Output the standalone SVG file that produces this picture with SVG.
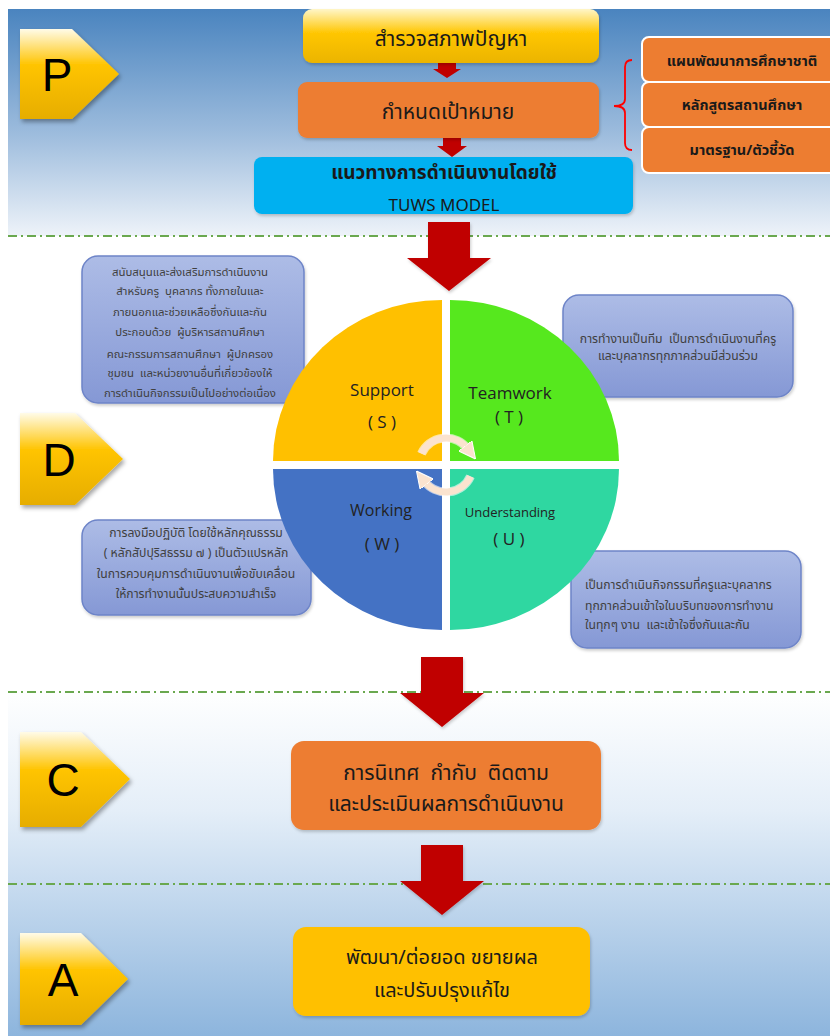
<svg xmlns="http://www.w3.org/2000/svg" width="830" height="1036" viewBox="0 0 830 1036">
<defs>
<linearGradient id="bgTop" x1="0" y1="0" x2="0" y2="1">
<stop offset="0" stop-color="#4a84bf"/><stop offset="0.55" stop-color="#9dbcdd"/><stop offset="1" stop-color="#eef3f9"/>
</linearGradient>
<linearGradient id="bgBot" x1="0" y1="0" x2="0" y2="1">
<stop offset="0" stop-color="#ffffff"/><stop offset="0.35" stop-color="#e4eef8"/><stop offset="1" stop-color="#8db5dd"/>
</linearGradient>
<linearGradient id="pent" x1="0" y1="0" x2="0" y2="1">
<stop offset="0" stop-color="#fffbe8"/><stop offset="0.4" stop-color="#ffc400"/><stop offset="1" stop-color="#e6ad00"/>
</linearGradient>
<linearGradient id="yel" x1="0" y1="0" x2="0" y2="1">
<stop offset="0" stop-color="#fff6c8"/><stop offset="0.45" stop-color="#ffc600"/><stop offset="1" stop-color="#ebb400"/>
</linearGradient>
<linearGradient id="peri" x1="0" y1="0" x2="0" y2="1">
<stop offset="0" stop-color="#adbce6"/><stop offset="1" stop-color="#8598d5"/>
</linearGradient>
<filter id="sh" x="-20%" y="-20%" width="150%" height="150%">
<feDropShadow dx="2" dy="3" stdDeviation="2" flood-color="#000" flood-opacity="0.35"/>
</filter>
<filter id="sh2" x="-10%" y="-10%" width="130%" height="130%">
<feDropShadow dx="1" dy="2" stdDeviation="1.5" flood-color="#000" flood-opacity="0.2"/>
</filter>
<marker id="cah" viewBox="0 0 10 10" refX="2" refY="5" markerWidth="2.4" markerHeight="2.4" orient="auto">
<path d="M0,0 L10,5 L0,10 Z" fill="#fbe3cf" stroke="#ffffff" stroke-width="0.6"/>
</marker>
<style>
text{white-space:pre}
.th{font-family:"Noto Sans","Noto Sans Thai","Tahoma",sans-serif}
.big{font-size:21px;fill:#1a1a1a;text-anchor:middle}
.sm{font-size:14.5px;fill:#1a1a1a;text-anchor:middle;font-weight:bold}
.note{font-size:12.2px;fill:#404040}
.lbl{font-family:"Open Sans","Liberation Sans",sans-serif;font-size:17px;fill:#222;text-anchor:middle}
.let{font-family:"Liberation Sans",Arial,sans-serif;font-size:46px;fill:#000;text-anchor:middle}
.dash{stroke:#6aa84f;stroke-width:2;stroke-dasharray:9 4 2 4;fill:none}
.red{fill:#c00000}
.pbox{fill:url(#peri);stroke:#6d84c8;stroke-width:1.5}
</style>
</defs>
<rect x="0" y="0" width="830" height="1036" fill="#ffffff"/>
<rect x="8" y="9" width="822" height="227" fill="url(#bgTop)"/>
<rect x="8" y="690" width="822" height="346" fill="url(#bgBot)"/>
<g id="separators">
<line class="dash" x1="8" y1="236" x2="830" y2="236"/>
<line class="dash" x1="8" y1="692" x2="830" y2="692"/>
<line class="dash" x1="8" y1="884" x2="830" y2="884"/>
</g>
<g id="stage-P"><path d="M20,29 H72 L119,74 L72,119 H20 Z" fill="url(#pent)" filter="url(#sh)"/><text class="let" x="57" y="91">P</text></g>
<g id="stage-D"><path d="M20,413 H75 L123,459 L75,505 H20 Z" fill="url(#pent)" filter="url(#sh)"/><text class="let" x="59" y="476">D</text></g>
<g id="stage-C"><path d="M20,732 H81 L130,779 L81,827 H20 Z" fill="url(#pent)" filter="url(#sh)"/><text class="let" x="63" y="796">C</text></g>
<g id="stage-A"><path d="M20,933 H81 L128,979 L81,1025 H20 Z" fill="url(#pent)" filter="url(#sh)"/><text class="let" x="63" y="996">A</text></g>
<g id="connectors">
<path class="red" d="M438,63 H456 V69 H461 L447,78 L433,69 H438 Z"/>
<path class="red" d="M443,138 H461 V146 H467 L452,157 L437,146 H443 Z"/>
<path class="red" d="M428,222 H470 V258 H491 L449,291 L407,258 H428 Z" filter="url(#sh2)"/>
<path class="red" d="M421,657 H463 V693 H484 L442,727 L400,693 H421 Z" filter="url(#sh2)"/>
<path class="red" d="M421,845 H463 V881 H484 L442,915 L400,881 H421 Z" filter="url(#sh2)"/>
<path d="M632,60 Q625,60 625,67 V99 Q625,106 614,106 Q625,106 625,113 V143 Q625,150 632,150" fill="none" stroke="#ff0000" stroke-width="1.8"/>
</g>
<g id="survey"><rect x="303" y="9" width="296" height="54" rx="9" fill="url(#yel)" filter="url(#sh2)"/><text class="th big" x="451" y="46">สำรวจสภาพปัญหา</text></g>
<g id="goal"><rect x="298" y="82" width="301" height="56" rx="9" fill="#ed7d31" filter="url(#sh2)"/><text class="th big" x="448" y="119">กำหนดเป้าหมาย</text></g>
<g id="tuws"><rect x="254" y="157" width="379" height="57" rx="8" fill="#00b0f0" filter="url(#sh2)"/><text class="th" x="444" y="179" font-weight="bold" font-size="19" fill="#1a1a1a" text-anchor="middle">แนวทางการดำเนินงานโดยใช้</text><text class="th" x="444" y="211" font-size="17" fill="#1a1a1a" text-anchor="middle">TUWS MODEL</text></g>
<g id="ref-1"><rect x="642" y="37" width="200" height="45" rx="7" fill="#ed7d31" stroke="#fff" stroke-width="2"/><text class="th sm" x="742" y="66">แผนพัฒนาการศึกษาชาติ</text></g>
<g id="ref-2"><rect x="642" y="82" width="200" height="45" rx="7" fill="#ed7d31" stroke="#fff" stroke-width="2"/><text class="th sm" x="742" y="110">หลักสูตรสถานศึกษา</text></g>
<g id="ref-3"><rect x="642" y="127" width="200" height="46" rx="7" fill="#ed7d31" stroke="#fff" stroke-width="2"/><text class="th sm" x="742" y="155">มาตรฐาน/ตัวชี้วัด</text></g>
<g id="note-S"><rect class="pbox" x="82" y="256" width="222" height="147" rx="16" filter="url(#sh2)"/>
<g class="th note" text-anchor="middle" style="font-size:11.4px">
<text x="190" y="276">สนับสนุนและส่งเสริมการดำเนินงาน</text>
<text x="190" y="295">สำหรับครู  บุคลากร ทั้งภายในและ</text>
<text x="190" y="316">ภายนอกและช่วยเหลือซึ่งกันและกัน</text>
<text x="190" y="336">ประกอบด้วย  ผู้บริหารสถานศึกษา</text>
<text x="190" y="358">คณะกรรมการสถานศึกษา  ผู้ปกครอง</text>
<text x="190" y="377">ชุมชน  และหน่วยงานอื่นที่เกี่ยวข้องให้</text>
<text x="190" y="397">การดำเนินกิจกรรมเป็นไปอย่างต่อเนื่อง</text>
</g></g>
<g id="note-T"><rect class="pbox" x="563" y="295" width="230" height="102" rx="16" filter="url(#sh2)"/>
<g class="th note" text-anchor="middle">
<text x="678" y="343">การทำงานเป็นทีม  เป็นการดำเนินงานที่ครู</text>
<text x="678" y="360">และบุคลากรทุกภาคส่วนมีส่วนร่วม</text>
</g></g>
<g id="note-W"><rect class="pbox" x="82" y="520" width="229" height="95" rx="16" filter="url(#sh2)"/>
<g class="th note" text-anchor="middle">
<text x="196" y="537">การลงมือปฏิบัติ โดยใช้หลักคุณธรรม</text>
<text x="196" y="557">( หลักสัปปุริสธรรม ๗ ) เป็นตัวแปรหลัก</text>
<text x="196" y="578">ในการควบคุมการดำเนินงานเพื่อขับเคลื่อน</text>
<text x="196" y="598">ให้การทำงานนั้นประสบความสำเร็จ</text>
</g></g>
<g id="note-U"><rect class="pbox" x="571" y="551" width="230" height="97" rx="16" filter="url(#sh2)"/>
<g class="th note">
<text x="585" y="589">เป็นการดำเนินกิจกรรมที่ครูและบุคลากร</text>
<text x="585" y="610">ทุกภาคส่วนเข้าใจในบริบทของการทำงาน</text>
<text x="585" y="629">ในทุกๆ งาน  และเข้าใจซึ่งกันและกัน</text>
</g></g>
<g id="support"><path d="M442,461 H273 A169,161 0 0 1 442,300 Z" fill="#ffc000"/><text class="lbl" x="382" y="396">Support</text><text class="lbl" x="382" y="428">( S )</text></g>
<g id="teamwork"><path d="M450,461 V300 A169,161 0 0 1 619,461 Z" fill="#56e81e"/><text class="lbl" x="510" y="399">Teamwork</text><text class="lbl" x="509" y="423">( T )</text></g>
<g id="working"><path d="M442,469 V630 A169,161 0 0 1 273,469 Z" fill="#4472c4"/><text class="lbl" x="381" y="516" style="font-size:16px">Working</text><text class="lbl" x="382" y="550">( W )</text></g>
<g id="understanding"><path d="M450,469 H619 A169,161 0 0 1 450,630 Z" fill="#2fd7a1"/><text class="lbl" x="510" y="517" style="font-size:13px">Understanding</text><text class="lbl" x="509" y="545">( U )</text></g>
<g id="cycle" fill="none" stroke-linecap="butt">
<path d="M421.5,453.6 A27,27 0 0 1 467.3,448.4" stroke="#ffffff" stroke-width="9" opacity="0.6"/>
<path d="M470.5,476.4 A27,27 0 0 1 424.7,481.6" stroke="#ffffff" stroke-width="9" opacity="0.6"/>
<path d="M421.5,453.6 A27,27 0 0 1 467.3,448.4" stroke="#fbe3cf" stroke-width="7" marker-end="url(#cah)"/>
<path d="M470.5,476.4 A27,27 0 0 1 424.7,481.6" stroke="#fbe3cf" stroke-width="7" marker-end="url(#cah)"/>
</g>
<g id="check"><rect x="291" y="741" width="310" height="89" rx="13" fill="#ed7d31" filter="url(#sh2)"/>
<text class="th big" x="446" y="780">การนิเทศ  กำกับ  ติดตาม</text>
<text class="th big" x="446" y="811">และประเมินผลการดำเนินงาน</text></g>
<g id="act"><rect x="293" y="927" width="297" height="89" rx="13" fill="#ffc000" filter="url(#sh2)"/>
<text class="th big" x="442" y="964" style="font-size:20px">พัฒนา/ต่อยอด ขยายผล</text>
<text class="th big" x="442" y="997" style="font-size:20px">และปรับปรุงแก้ไข</text></g>
</svg>
